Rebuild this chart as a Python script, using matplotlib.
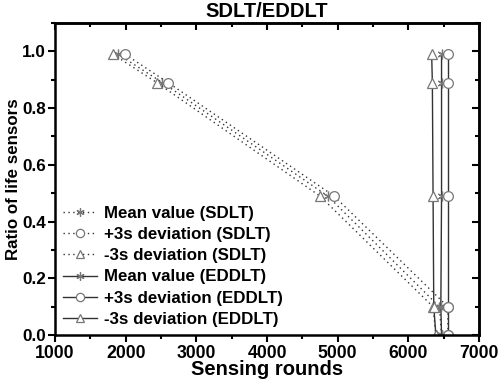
import matplotlib
matplotlib.use("Agg")
import matplotlib.pyplot as plt
from matplotlib.ticker import MultipleLocator

plt.rcParams['font.family'] = ['Liberation Sans', 'DejaVu Sans']
plt.rcParams['font.weight'] = 'bold'

ratio = [0.99, 0.89, 0.49, 0.10, 0.0]
sdlt_mean = [1890, 2520, 4860, 6440, 6470]
sdlt_plus = [1990, 2600, 4950, 6560, 6560]
sdlt_minus = [1820, 2440, 4750, 6350, 6390]
eddlt_mean = [6470, 6470, 6470, 6460, 6470]
eddlt_plus = [6560, 6560, 6560, 6560, 6560]
eddlt_minus = [6330, 6340, 6350, 6360, 6390]

labels = ["Mean value (SDLT)", "+3s deviation (SDLT)", "-3s deviation (SDLT)",
          "Mean value (EDDLT)", "+3s deviation (EDDLT)", "-3s deviation (EDDLT)"]

fig = plt.figure(figsize=(5.0, 3.83), dpi=100)
ax = fig.add_axes([0.11, 0.125, 0.848, 0.815])

lc = '#333333'
mc = '#777777'
common = dict(color=lc, lw=1.0, markerfacecolor='white', markeredgecolor=mc, markersize=7, markeredgewidth=0.9)
ax.plot(sdlt_mean, ratio, ls=(0, (1, 2.5)), marker=(6, 2, 0), label=labels[0], **common)
ax.plot(sdlt_plus, ratio, ls=(0, (1, 2.5)), marker='o', label=labels[1], **common)
ax.plot(sdlt_minus, ratio, ls=(0, (1, 2.5)), marker='^', label=labels[2], **common)
ax.plot(eddlt_mean, ratio, ls='-', marker=(6, 2, 0), label=labels[3], **common)
ax.plot(eddlt_plus, ratio, ls='-', marker='o', label=labels[4], **common)
ax.plot(eddlt_minus, ratio, ls='-', marker='^', label=labels[5], **common)

ax.set_xlim(1000, 7000)
ax.set_ylim(0.0, 1.1)
ax.xaxis.set_major_locator(MultipleLocator(1000))
ax.xaxis.set_minor_locator(MultipleLocator(500))
ax.yaxis.set_minor_locator(MultipleLocator(0.1))
ax.set_yticks([0.0, 0.2, 0.4, 0.6, 0.8, 1.0])
ax.tick_params(which='both', direction='out', width=1.5, labelsize=12.7, pad=2)
ax.tick_params(axis='y', labelsize=12.3, pad=1.5)
ax.tick_params(which='major', length=5)
ax.tick_params(which='minor', length=3)
for lab in ax.get_xticklabels() + ax.get_yticklabels():
    lab.set_fontweight('bold')

# mirrored inward ticks on top and right
axt = ax.secondary_xaxis('top')
axt.xaxis.set_major_locator(MultipleLocator(1000))
axt.xaxis.set_minor_locator(MultipleLocator(500))
axt.tick_params(which='both', direction='in', labeltop=False, width=1.5)
axt.tick_params(which='major', length=5)
axt.tick_params(which='minor', length=3)
axr = ax.secondary_yaxis('right')
axr.set_yticks([0.0, 0.2, 0.4, 0.6, 0.8, 1.0])
axr.yaxis.set_minor_locator(MultipleLocator(0.1))
axr.tick_params(which='both', direction='in', labelright=False, width=1.5)
axr.tick_params(which='major', length=5)
axr.tick_params(which='minor', length=3)

for s in ax.spines.values():
    s.set_linewidth(1.8)
axt.spines['top'].set_linewidth(1.8)
axr.spines['right'].set_linewidth(1.8)

ax.set_title("SDLT/EDDLT", fontsize=14.5, fontweight='bold', pad=4)
ax.set_xlabel("Sensing rounds", fontsize=14.5, fontweight='bold', labelpad=-1)
ax.set_ylabel("Ratio of life sensors", fontsize=12.2, fontweight='bold', labelpad=1)

leg = ax.legend(loc='lower left', frameon=False, fontsize=12.2, handlelength=2.0,
                labelspacing=0.36, borderaxespad=0.1, handletextpad=0.4,
                markerscale=0.85, bbox_to_anchor=(0.0, 0.0))
for t in leg.get_texts():
    t.set_fontweight('bold')

fig.savefig("out.png", dpi=100)
